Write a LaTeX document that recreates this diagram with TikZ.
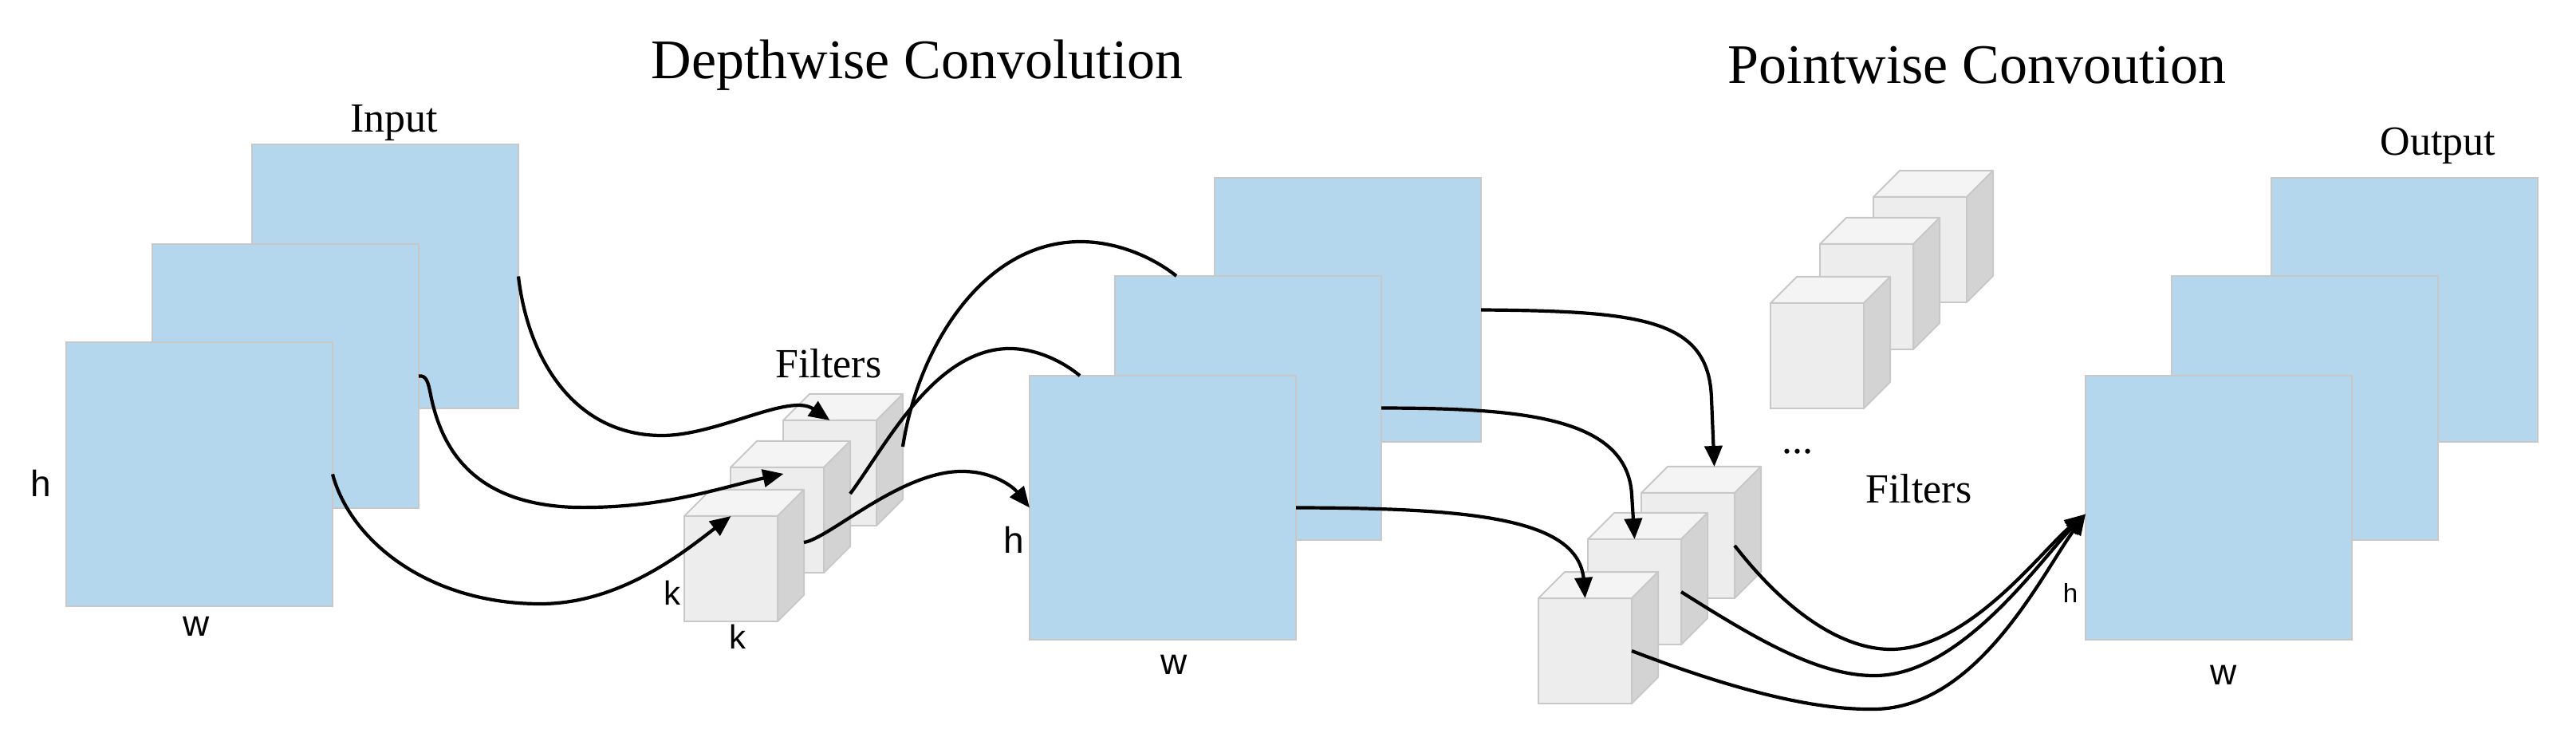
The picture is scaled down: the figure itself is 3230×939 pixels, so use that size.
\documentclass[tikz,border=0pt]{standalone}
\usepackage{fontspec}
\setmainfont{Liberation Serif}
\setsansfont{Liberation Sans}
\usetikzlibrary{calc,arrows.meta}
\definecolor{mapblue}{HTML}{B4D7EE}
\definecolor{edgegray}{HTML}{C8C8C8}
\definecolor{cubefrontc}{HTML}{EDEDED}
\definecolor{cubetopc}{HTML}{F4F4F4}
\definecolor{cubesidec}{HTML}{D3D3D3}
\tikzset{
 fmap/.style={draw=edgegray, fill=mapblue, line width=0.5pt, minimum width=83.5pt, minimum height=82.75pt, inner sep=0pt, outer sep=0pt, anchor=north west},
 cubeface/.style={draw=edgegray, fill=cubefrontc, line width=0.5pt, minimum width=29.25pt, minimum height=33pt, inner sep=0pt, outer sep=0pt, anchor=north west},
 cubeline/.style={draw=edgegray, line width=0.5pt, line join=round},
 conn/.style={line width=1.05pt, -{Triangle[length=6.5pt,width=5.5pt]}},
 plainconn/.style={line width=1.05pt},
 titletext/.style={font=\fontsize{17.5}{20}\selectfont},
 serlabel/.style={font=\fontsize{13}{15}\selectfont},
 dimlabel/.style={font=\sffamily\fontsize{11.5}{13}\selectfont},
 smalldim/.style={font=\sffamily\fontsize{8.3}{10}\selectfont},
 klabel/.style={font=\sffamily\fontsize{10.5}{12}\selectfont},
}
\newcommand{\drawmycube}[3]{%
  \node[cubeface] (#1) at (#2,#3) {};
  \filldraw[cubeline, fill=cubetopc] (#1.north west) -- ++(33,-33) -- ($(#1.north east)+(33,-33)$) -- (#1.north east) -- cycle;
  \filldraw[cubeline, fill=cubesidec] (#1.north east) -- ++(33,-33) -- ($(#1.south east)+(33,-33)$) -- (#1.south east) -- cycle;
}
\begin{document}
\begin{tikzpicture}[x=0.25pt,y=-0.25pt]
\useasboundingbox (0,0) rectangle (3230,939);

% titles and labels
\node[titletext] (t1) at (1150,82) {Depthwise Convolution};
\node[titletext] (t2) at (2479,82) {Pointwise Convoution};
\node[serlabel] (linput) at (494,154) {Input};
\node[serlabel] (loutput) at (3057,183) {Output};
\node[serlabel] (lfilt1) at (1039,456) {Filters};
\node[serlabel] (lfilt2) at (2406,613) {Filters};
\node[serlabel] (ldots) at (2254,566) {...};

% input maps
\node[fmap] (inB) at (316,181) {};
\node[fmap] (inM) at (191,306) {};
\node[fmap] (inF) at (83,429) {};
\node[dimlabel] (inh) at (51,606) {h};
\node[dimlabel] (inw) at (246,785) {w};

% middle maps
\node[fmap] (mB) at (1523,223) {};
\node[fmap] (mM) at (1398,346) {};
\node[fmap] (mF) at (1291,471) {};
\node[dimlabel] (mh) at (1271,677) {h};
\node[dimlabel] (mw) at (1472,833) {w};

% output maps
\node[fmap] (oB) at (2848,223) {};
\node[fmap] (oM) at (2723,346) {};
\node[fmap] (oF) at (2615,471) {};
\node[smalldim] (oh) at (2596,743) {h};
\node[dimlabel] (ow) at (2788,846) {w};

% depthwise filters
\drawmycube{dB}{982}{527}
\drawmycube{dM}{916}{586}
\drawmycube{dF}{858}{647}
\node[klabel] (k1) at (843,743) {k};
\node[klabel] (k2) at (925,798) {k};

% pointwise filters (upper, unconnected)
\drawmycube{uB}{2349}{247}
\drawmycube{uM}{2282}{306}
\drawmycube{uF}{2220}{380}

% pointwise filters (lower)
\drawmycube{pB}{2058}{618}
\drawmycube{pM}{1991}{676}
\drawmycube{pF}{1929}{750}

% input -> depthwise filters
\draw[conn] (inB.east) .. controls (662,450) and (720,546) .. (830,546)
   .. controls (900,546) and (990,492) .. (dB.north);
\draw[conn] (inM.east) .. controls (535,470) and (537,480) .. (540,495)
   .. controls (555,570) and (600,632) .. (720,636)
   .. controls (830,638) and (900,612) .. ($(dM.north)+(8,8)$);
\draw[conn] (inF.east) .. controls (440,680) and (540,758) .. (680,757)
   .. controls (780,756) and (860,690) .. (dF.north);

% depthwise filters -> middle maps
\draw[conn] ($(dF.east)+(33,-33)$) .. controls (1040,675) and (1130,590) .. (1207,591)
   .. controls (1245,591) and (1270,610) .. (mF.west);
\draw[plainconn] ($(dM.east)+(33,-33)$) .. controls (1110,560) and (1170,440) .. (1263,437)
   .. controls (1300,436) and (1335,455) .. ($(mF.north west)+(63,0)$);
\draw[plainconn] ($(dB.east)+(33,-33)$) .. controls (1150,440) and (1230,303) .. (1355,303)
   .. controls (1400,303) and (1445,322) .. ($(mM.north west)+(77,0)$);

% middle maps -> pointwise filters
\draw[conn] (mB.east) .. controls (2060,390) and (2143,400) .. (2146,500) -- ($(pB.north)+(33,-33)$);
\draw[conn] (mM.east) .. controls (1900,512) and (2040,520) .. (2046,620) -- (pM.north);
\draw[conn] (mF.east) .. controls (1850,637) and (1983,650) .. (1986,730) -- (pF.north);

% pointwise filters -> output
\draw[conn] (pB.east) .. controls (2250,780) and (2320,815) .. (2373,814)
   .. controls (2470,812) and (2560,690) .. ($(oF.west)+(0,8)$);
\draw[conn] (pM.east) .. controls (2200,800) and (2280,848) .. (2352,847)
   .. controls (2460,846) and (2560,700) .. ($(oF.west)+(0,8)$);
\draw[conn] (pF.east) .. controls (2200,875) and (2290,890) .. (2350,889)
   .. controls (2480,888) and (2560,720) .. ($(oF.west)+(0,8)$);
\end{tikzpicture}
\end{document}
